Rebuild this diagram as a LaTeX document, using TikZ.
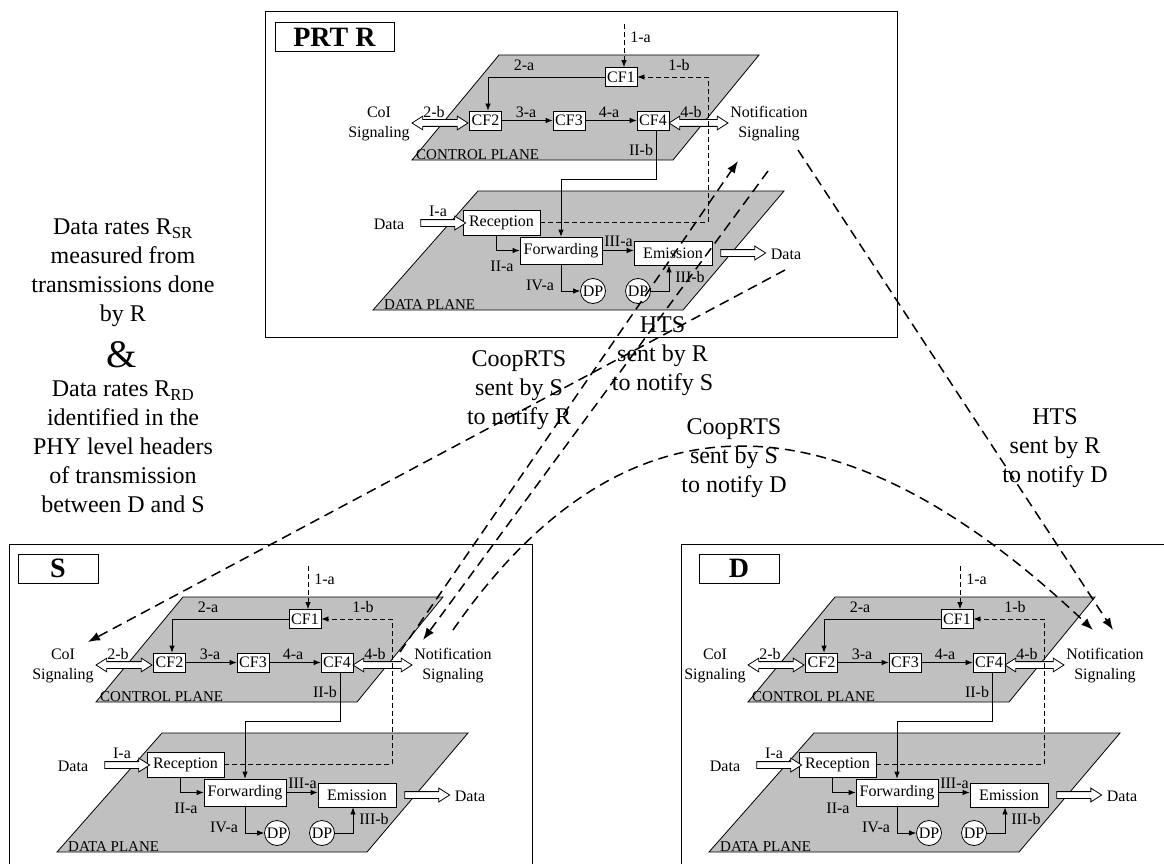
\documentclass[tikz,border=0pt]{standalone}
\usepackage{fontspec}
\setmainfont{Liberation Serif}
\usetikzlibrary{arrows.meta,calc,shapes.arrows}
\definecolor{planegray}{RGB}{192,192,192}
\tikzset{
  every node/.style={inner sep=0pt},
  lw/.style={line width=0.8pt},
  plane/.style={fill=planegray,draw=black,line width=0.8pt},
  modfont/.style={font=\fontsize{16}{20}\selectfont},
  planefont/.style={font=\fontsize{15}{18}\selectfont},
  cfbox/.style={draw,fill=white,lw,modfont,minimum width=32pt,minimum height=19pt},
  dbox/.style={draw,fill=white,lw,modfont},
  dpcirc/.style={circle,draw,fill=white,lw,modfont,minimum size=25pt},
  lbl/.style={modfont},
  sig/.style={modfont,align=center},
  flow/.style={lw,-{Latex[length=7pt,width=5.5pt]}},
  dflow/.style={flow,dash pattern=on 5pt off 3pt},
  fatdbl/.style={double arrow,draw,fill=white,lw,inner sep=3pt,double arrow head extend=3.5pt,double arrow tip angle=65},
  fatsgl/.style={single arrow,draw,fill=white,lw,inner sep=3pt,single arrow head extend=3.5pt,single arrow tip angle=65},
  big/.style={align=center,font=\fontsize{24}{29}\selectfont},
  longdash/.style={line width=1.5pt,dash pattern=on 10pt off 6pt,-{Latex[length=12pt,width=9pt]}},
  frame/.style={draw,line width=0.9pt},
  titlebox/.style={draw,line width=1pt,font=\fontsize{28}{30}\selectfont\bfseries},
}
\newcommand\drawmod[3]{%
\begin{scope}[shift={(#2,#3)}]
  \path[plane] (183,597) -- (443,597) -- (357,702) -- (96,702) -- cycle;
  \path[plane] (162,733) -- (468,733) -- (367,852) -- (57,852) -- cycle;
  \node[planefont,anchor=base west] (#1cpl) at (100,701) {CONTROL PLANE};
  \node[planefont,anchor=base west] (#1dpl) at (68,851) {DATA PLANE};
  \node[cfbox] (#1cf1) at (305,619) {CF1};
  \node[cfbox] (#1cf2) at (169.5,662.5) {CF2};
  \node[cfbox] (#1cf3) at (253,662.5) {CF3};
  \node[cfbox] (#1cf4) at (337,662.5) {CF4};
  \node[dbox,minimum width=77pt,minimum height=25pt] (#1rec) at (185.5,764.5) {Reception};
  \node[dbox,minimum width=82pt,minimum height=27pt] (#1fwd) at (245,792.5) {Forwarding};
  \node[dbox,minimum width=78pt,minimum height=24pt] (#1emi) at (357,795) {Emission};
  \node[dpcirc] (#1dpa) at (277,833) {DP};
  \node[dpcirc] (#1dpb) at (322,833) {DP};
  \node[sig] (#1coi) at (63,666) {CoI\\Signaling};
  \node[sig] (#1not) at (453,666) {Notification\\Signaling};
  \node[lbl] (#1din) at (73,766) {Data};
  \node[lbl] (#1dout) at (470,796) {Data};
  \node[fatdbl,minimum height=56pt] (#1ab) at (124,665) {};
  \node[fatdbl,minimum height=59pt] (#1ad) at (382.5,665) {};
  \node[fatsgl,minimum height=45pt] (#1ai) at (124.5,765) {};
  \node[fatsgl,minimum height=45pt] (#1ao) at (424.5,795) {};
  \coordinate (#1top) at (308,566);
  \coordinate (#1rb) at (392,640);
  \coordinate (#1bend) at (340,721);
  \draw[dflow] (#1top) -- (#1top |- #1cf1.north);
  \draw[dflow] (#1rec.east) -| (#1rb |- #1cf1.east) -- (#1cf1.east);
  \draw[flow] (#1cf1.west) -| ([xshift=2.5pt]#1cf2.north);
  \draw[flow] (#1cf2.east) -- (#1cf3.west);
  \draw[flow] (#1cf3.east) -- (#1cf4.west);
  \draw[flow] (#1bend |- #1cf4.south) -- (#1bend) -| (#1fwd.north);
  \draw[flow] ([xshift=-5.5pt]#1rec.south) |- (#1fwd.west);
  \draw[flow] (#1fwd.east) -- (#1fwd.east -| #1emi.west);
  \draw[flow] (#1fwd.south) |- (#1dpa.west);
  \draw[flow] (#1dpb.east) -| ([xshift=-4pt]#1emi.south);
  \node[lbl] (#1l1a) at (324.5,579) {1-a};
  \node[lbl] (#1l1b) at (363,607) {1-b};
  \node[lbl] (#1l2a) at (208,607) {2-a};
  \node[lbl] (#1l2b) at (118,654) {2-b};
  \node[lbl] (#1l3a) at (210,654) {3-a};
  \node[lbl] (#1l4a) at (293,654) {4-a};
  \node[lbl] (#1l4b) at (375,654) {4-b};
  \node[lbl] (#1lIIb) at (325,692) {II-b};
  \node[lbl] (#1lIa) at (122,753) {I-a};
  \node[lbl] (#1lIIa) at (186,808) {II-a};
  \node[lbl] (#1lIIIa) at (302.5,783) {III-a};
  \node[lbl] (#1lIVa) at (224,827) {IV-a};
  \node[lbl] (#1lIIIb) at (374,819) {III-b};
\end{scope}}
\begin{document}
\begin{tikzpicture}[x=1pt,y=-1pt]
  \useasboundingbox (0,0) rectangle (1164,864);
  \clip (0,0) rectangle (1164,864);
  % frames
  \draw[frame] (265,11) rectangle (897,337);
  \draw[frame] (9,544) rectangle (532,880);
  \draw[frame] (681,544) rectangle (1180,880);
  \node[titlebox,minimum width=119pt,minimum height=29pt] (tR) at (334.5,37.5) {PRT R};
  \node[titlebox,minimum width=80pt,minimum height=29pt] (tS) at (58,568.5) {S};
  \node[titlebox,minimum width=80pt,minimum height=29pt] (tD) at (739,568.5) {D};
  % modules
  \drawmod{R}{316}{-542}
  \drawmod{S}{0}{0}
  \drawmod{D}{652}{0}
  % big texts
  \node[big] (rsr) at (123,273) {Data rates R\textsubscript{SR}\\measured from\\transmissions done\\by R};
  \node[font=\fontsize{39}{40}\selectfont] (amp) at (122,355) {\&};
  \node[big] (rrd) at (123,447) {Data rates R\textsubscript{RD}\\identified in the\\PHY level headers\\of transmission\\between D and S};
  \node[big] (cr) at (519,390) {CoopRTS\\sent by S\\to notify R};
  \node[big] (hs) at (662.5,356) {HTS\\sent by R\\to notify S};
  \node[big] (cd) at (734,458) {CoopRTS\\sent by S\\to notify D};
  \node[big] (hd) at (1055,448) {HTS\\sent by R\\to notify D};
  % long dashed connectors
  \coordinate (pA) at (400,652); \coordinate (qA) at (738,161);
  \coordinate (pB) at (768,171); \coordinate (qB) at (423,640);
  \coordinate (pC) at (785,270); \coordinate (qC) at (88,642);
  \coordinate (pD) at (453,630); \coordinate (qD) at (1093,630);
  \coordinate (pE) at (798,150); \coordinate (qE) at (1113,630);
  \draw[longdash] (pA) -- (qA);
  \draw[longdash] (pB) -- (qB);
  \draw[longdash] (pC) -- (qC);
  \draw[longdash] (pD) .. controls (622,386) and (836,386) .. (qD);
  \draw[longdash] (pE) -- (qE);
\end{tikzpicture}
\end{document}
